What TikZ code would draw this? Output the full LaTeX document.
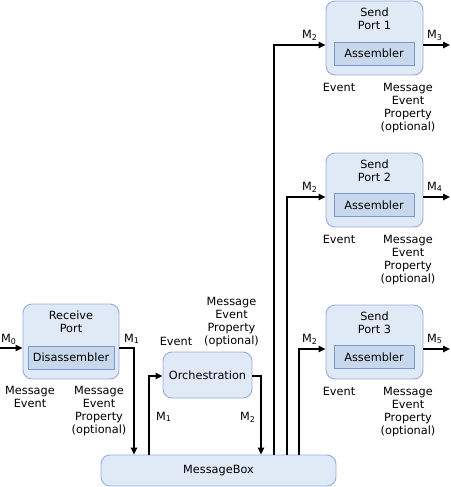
\documentclass[tikz,border=0pt]{standalone}
\usepackage{fontspec}
\setmainfont{DejaVu Sans}
\usetikzlibrary{arrows.meta}
\definecolor{outerfill}{RGB}{224,233,246}
\definecolor{outerdraw}{RGB}{150,172,222}
\definecolor{innerfill}{RGB}{200,216,236}
\definecolor{innerdraw}{RGB}{124,152,208}
\begin{document}
\begin{tikzpicture}[x=1pt,y=-1pt,
  every node/.style={font=\fontsize{11.3}{13}\selectfont, inner sep=0pt, align=center},
  portbox/.style={draw=outerdraw, fill=outerfill, line width=0.9pt, rounded corners=9pt, minimum width=96pt, minimum height=74pt},
  innerbox/.style={draw=innerdraw, fill=innerfill, line width=0.9pt, minimum height=23pt},
  wide/.style={draw=outerdraw, fill=outerfill, line width=0.9pt, rounded corners=9pt},
  conn/.style={line width=1.3pt, black},
  arr/.style={conn, -{Triangle[length=7pt,width=6.5pt]}},
  lbl/.style={anchor=north},
  mlbl/.style={anchor=base west}]
\useasboundingbox (0,0) rectangle (450,487);

% Receive port
\node[portbox, minimum height=75pt] (rp) at (71,341.5) {};
\node[lbl] (rpt) at (71,311) {Receive\\Port};
\node[innerbox, minimum width=86pt] (dis) at (71,357.5) {Disassembler};
\node[lbl] (rpl) at (30,386) {Message\\Event};
\node[lbl] (rpr) at (99,386) {Message\\Event\\Property\\(optional)};
\node[mlbl] (m0) at (1,342) {M\textsubscript{0}};
\node[mlbl] (m1a) at (124,342) {M\textsubscript{1}};

% Orchestration
\node[wide, minimum width=89pt, minimum height=46pt] (orch) at (207.5,375) {Orchestration};
\node[lbl] (ore) at (176,337) {Event};
\node[lbl] (orm) at (231.5,297) {Message\\Event\\Property\\(optional)};
\node[mlbl] (m1b) at (156,420) {M\textsubscript{1}};
\node[mlbl] (m2a) at (240,420) {M\textsubscript{2}};

% MessageBox
\node[wide, minimum width=235pt, minimum height=31pt] (mb) at (218.5,470.5) {MessageBox};

% Send ports
\node[portbox, minimum width=97pt] (sp1) at (374.5,38) {};
\node[lbl] (sp1t) at (374.5,7.5) {Send\\Port 1};
\node[innerbox, minimum width=80pt] (as1) at (374,53.5) {Assembler};
\node[lbl] (sp1e) at (339,83) {Event};
\node[lbl] (sp1m) at (408,83) {Message\\Event\\Property\\(optional)};
\node[mlbl] (m2b) at (302,38) {M\textsubscript{2}};
\node[mlbl] (m3) at (427,38) {M\textsubscript{3}};

\node[portbox, minimum width=97pt] (sp2) at (374.5,190) {};
\node[lbl] (sp2t) at (374.5,159.5) {Send\\Port 2};
\node[innerbox, minimum width=80pt] (as2) at (374,205) {Assembler};
\node[lbl] (sp2e) at (339,235) {Event};
\node[lbl] (sp2m) at (408,235) {Message\\Event\\Property\\(optional)};
\node[mlbl] (m2c) at (302,190) {M\textsubscript{2}};
\node[mlbl] (m4) at (427,190) {M\textsubscript{4}};

\node[portbox, minimum width=97pt] (sp3) at (374.5,342) {};
\node[lbl] (sp3t) at (374.5,311.5) {Send\\Port 3};
\node[innerbox, minimum width=80pt] (as3) at (374,357) {Assembler};
\node[lbl] (sp3e) at (339,387) {Event};
\node[lbl] (sp3m) at (408,387) {Message\\Event\\Property\\(optional)};
\node[mlbl] (m2d) at (302,342) {M\textsubscript{2}};
\node[mlbl] (m5) at (427,342) {M\textsubscript{5}};

% coordinates
\coordinate (in0) at (0,348);
\coordinate (c1) at (134,348);
\coordinate (c2) at (149,376);
\coordinate (c3) at (261,376);
\coordinate (s1) at (274,45);
\coordinate (s2) at (287,197);
\coordinate (s3) at (299,349);
\coordinate (o1) at (450,45);
\coordinate (o2) at (450,197);
\coordinate (o3) at (450,349);

% connectors
\draw[arr] (in0) -- (in0 -| rp.west);
\draw[arr] (rp.east |- c1) -- (c1) -- (c1 |- mb.north);
\draw[arr] (c2 |- mb.north) -- (c2) -- (c2 -| orch.west);
\draw[arr] (orch.east |- c3) -- (c3) -- (c3 |- mb.north);
\draw[arr] (s1 |- mb.north) -- (s1) -- (s1 -| sp1.west);
\draw[arr] (s2 |- mb.north) -- (s2) -- (s2 -| sp2.west);
\draw[arr] (s3 |- mb.north) -- (s3) -- (s3 -| sp3.west);
\draw[arr] (sp1.east |- o1) -- (o1);
\draw[arr] (sp2.east |- o2) -- (o2);
\draw[arr] (sp3.east |- o3) -- (o3);
\end{tikzpicture}
\end{document}
